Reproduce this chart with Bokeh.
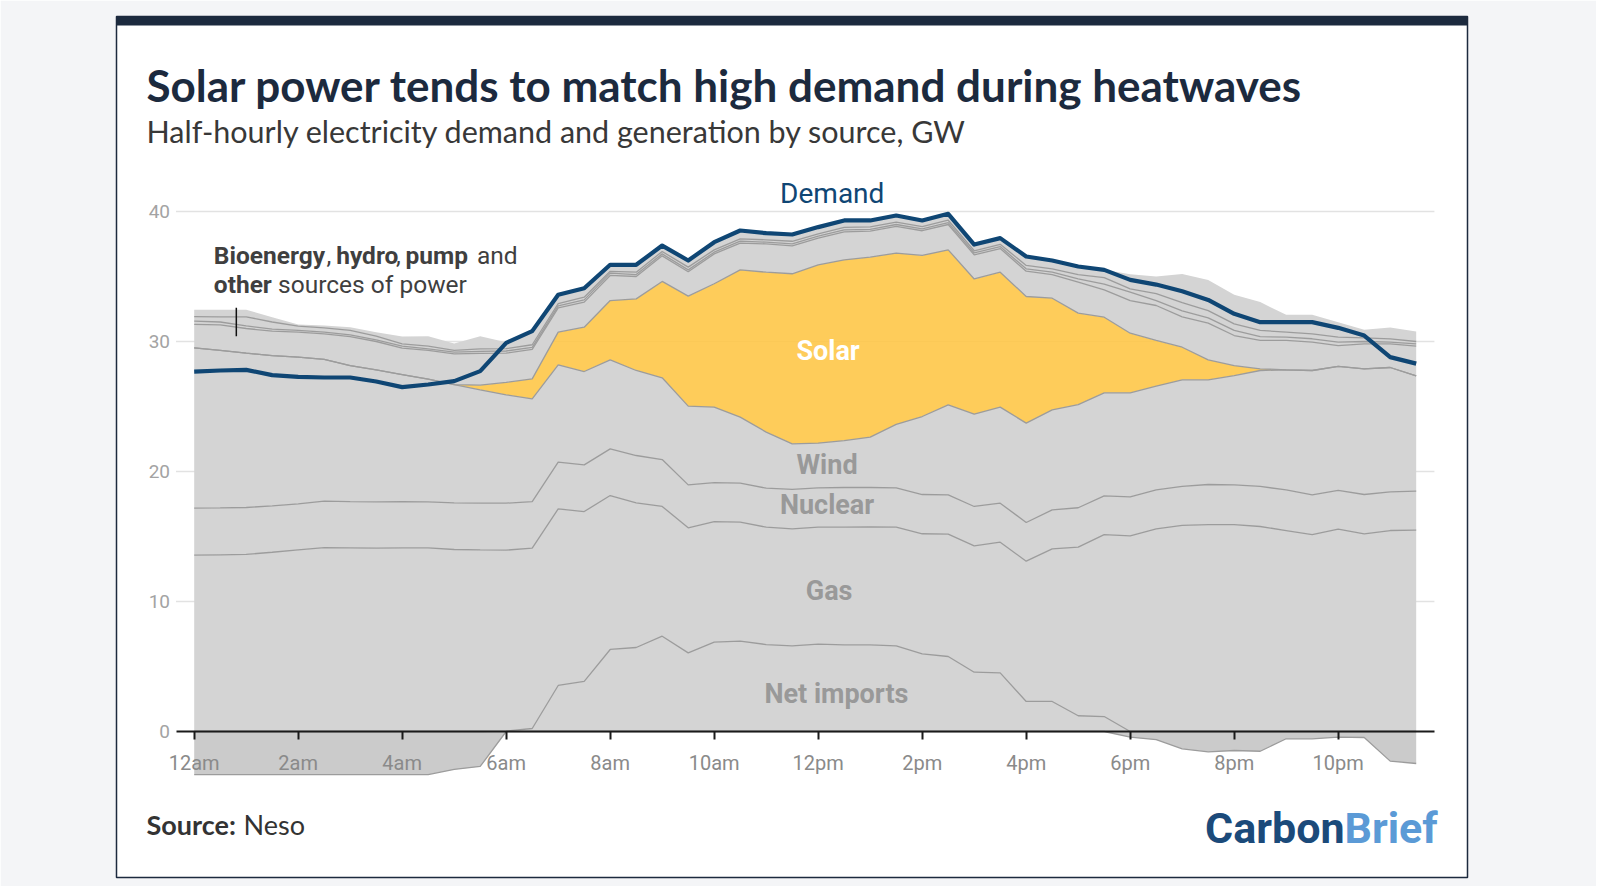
import numpy as np
from bokeh.plotting import figure
from bokeh.models import Label, BoxAnnotation, Range1d, FixedTicker, LinearAxis
from bokeh.embed import file_html
from bokeh.resources import INLINE

# ---------------- data (GW, half-hourly) ----------------
HALF_HOURS = ["00:00", "00:30", "01:00", "01:30", "02:00", "02:30", "03:00", "03:30",
              "04:00", "04:30", "05:00", "05:30", "06:00", "06:30", "07:00", "07:30",
              "08:00", "08:30", "09:00", "09:30", "10:00", "10:30", "11:00", "11:30",
              "12:00", "12:30", "13:00", "13:30", "14:00", "14:30", "15:00", "15:30",
              "16:00", "16:30", "17:00", "17:30", "18:00", "18:30", "19:00", "19:30",
              "20:00", "20:30", "21:00", "21:30", "22:00", "22:30", "23:00", "23:30"]

DEMAND = [27.69, 27.77, 27.82, 27.41, 27.28, 27.23, 27.23, 26.92, 26.49, 26.69, 26.95, 27.72,
          29.90, 30.80, 33.59, 34.10, 35.90, 35.90, 37.38, 36.23, 37.64, 38.54, 38.33, 38.23,
          38.80, 39.31, 39.31, 39.69, 39.31, 39.82, 37.46, 37.95, 36.54, 36.23, 35.77, 35.51,
          34.74, 34.38, 33.87, 33.20, 32.13, 31.49, 31.49, 31.49, 31.05, 30.46, 28.80, 28.30]

NET_IMPORTS = [-4.75, -4.67, -4.62, -4.46, -4.03, -4.00, -3.87, -3.80, -3.89, -3.54, -2.92, -2.69,
               0.03, 0.23, 3.54, 3.85, 6.31, 6.46, 7.33, 6.05, 6.87, 6.95, 6.69, 6.59,
               6.72, 6.67, 6.67, 6.59, 5.97, 5.77, 4.56, 4.51, 2.31, 2.31, 1.21, 1.15,
               -0.44, -0.63, -1.33, -1.56, -1.46, -1.52, -0.56, -0.56, -0.44, -0.46, -2.28, -2.46]

GAS = [13.56, 13.59, 13.62, 13.79, 13.97, 14.15, 14.13, 14.10, 14.13, 14.13, 14.00, 13.97,
       13.92, 13.87, 13.59, 13.07, 11.84, 11.13, 9.98, 9.62, 9.28, 9.15, 9.03, 9.00,
       9.00, 9.05, 9.07, 9.13, 9.24, 9.41, 9.72, 10.05, 10.79, 11.74, 12.97, 14.00,
       15.05, 15.59, 15.85, 15.92, 15.92, 15.77, 15.46, 15.15, 15.56, 15.21, 15.46, 15.49]

NUCLEAR = [3.62, 3.61, 3.61, 3.57, 3.54, 3.57, 3.56, 3.57, 3.56, 3.54, 3.59, 3.59,
           3.61, 3.59, 3.59, 3.59, 3.59, 3.64, 3.61, 3.30, 3.00, 3.00, 3.00, 3.03,
           3.02, 3.05, 3.03, 3.02, 3.02, 3.02, 3.03, 3.00, 2.98, 3.00, 3.03, 2.98,
           3.00, 3.00, 3.00, 3.08, 3.05, 3.08, 3.13, 3.05, 2.98, 3.02, 2.98, 3.00]

WIND = [12.33, 12.11, 11.87, 11.56, 11.29, 10.90, 10.46, 10.15, 9.77, 9.43, 9.10, 8.72,
        8.34, 7.90, 7.49, 7.18, 6.85, 6.54, 6.29, 6.06, 5.80, 5.08, 4.31, 3.51,
        3.44, 3.61, 3.87, 4.88, 6.00, 6.93, 7.10, 7.39, 7.64, 7.69, 7.94, 7.92,
        8.00, 7.97, 8.20, 8.05, 8.41, 8.92, 9.23, 9.57, 9.54, 9.67, 9.56, 8.86]

SOLAR = [0.00, 0.00, 0.00, 0.00, 0.00, 0.00, 0.00, 0.00, 0.00, 0.00, 0.00, 0.36,
         0.95, 1.54, 2.51, 3.41, 4.56, 5.51, 7.41, 8.46, 9.49, 11.33, 12.30, 13.08,
         13.72, 13.90, 13.85, 13.18, 12.39, 11.92, 10.40, 10.38, 9.74, 8.59, 7.03, 5.82,
         4.59, 3.52, 2.51, 1.54, 0.77, 0.13, 0.00, 0.00, 0.00, 0.00, 0.00, 0.00]

BIOENERGY = [1.81, 1.97, 1.90, 1.88, 1.92, 1.97, 2.23, 2.18, 2.03, 2.21, 2.36, 2.45,
             2.25, 2.27, 1.87, 1.93, 1.93, 1.72, 1.97, 1.87, 2.30, 2.05, 2.18, 2.15,
             2.05, 2.15, 2.00, 2.05, 1.90, 1.95, 1.85, 1.82, 1.95, 1.82, 2.38, 2.10,
             2.51, 2.69, 2.34, 2.82, 2.31, 2.18, 2.26, 2.18, 1.61, 1.92, 1.82, 2.29]

HYDRO = [0.24, 0.22, 0.20, 0.15, 0.13, 0.13, 0.13, 0.13, 0.15, 0.13, 0.13, 0.15,
         0.17, 0.15, 0.15, 0.17, 0.18, 0.15, 0.15, 0.15, 0.13, 0.16, 0.13, 0.15,
         0.15, 0.15, 0.14, 0.15, 0.14, 0.15, 0.15, 0.15, 0.18, 0.18, 0.26, 0.45,
         0.65, 0.38, 0.46, 0.41, 0.39, 0.30, 0.25, 0.26, 0.26, 0.18, 0.13, 0.18]

PUMP = [0.36, 0.40, 0.70, 0.55, 0.33, 0.33, 0.34, 0.28, 0.18, 0.20, 0.13, 0.20,
        0.18, 0.20, 0.18, 0.21, 0.14, 0.18, 0.18, 0.21, 0.18, 0.18, 0.18, 0.20,
        0.18, 0.20, 0.18, 0.19, 0.17, 0.18, 0.17, 0.18, 0.26, 0.26, 0.33, 0.50,
        0.25, 0.53, 0.63, 0.56, 0.51, 0.47, 0.39, 0.38, 0.38, 0.28, 0.25, 0.18]

OTHER = [0.52, 0.54, 0.54, 0.37, 0.13, 0.18, 0.25, 0.31, 0.56, 0.76, 0.54, 0.96,
         0.50, 1.05, 0.67, 0.69, 0.50, 0.57, 0.46, 0.51, 0.59, 0.64, 0.51, 0.52,
         0.52, 0.53, 0.50, 0.50, 0.48, 0.49, 0.48, 0.47, 0.69, 0.64, 0.62, 0.59,
         1.13, 1.32, 2.21, 2.36, 2.23, 2.18, 1.33, 1.46, 1.16, 0.62, 0.88, 0.76]

TICK_HOURS = [0, 2, 4, 6, 8, 10, 12, 14, 16, 18, 20, 22]
TICK_LABELS = ["12am", "2am", "4am", "6am", "8am", "10am", "12pm", "2pm", "4pm", "6pm", "8pm", "10pm"]
Y_TICKS = [0, 10, 20, 30, 40]

TITLE = "Solar power tends to match high demand during heatwaves"
SUBTITLE = "Half-hourly electricity demand and generation by source, GW"

# plot-area extents in data units
X_MIN, X_MAX = -0.35, 23.85
Y_FLOOR = -3.31

# ---------------- derived stack ----------------
hours = np.array([int(t[:2]) + int(t[3:]) / 60.0 for t in HALF_HOURS])
ni = np.array(NET_IMPORTS)
neg = np.maximum(np.minimum(ni, 0.0), Y_FLOOR)   # clipped at the plot-area floor
b1 = np.maximum(ni, 0.0)
b2 = b1 + np.array(GAS)
b3 = b2 + np.array(NUCLEAR)
b4 = b3 + np.array(WIND)
b5 = b4 + np.array(SOLAR)
b6 = b5 + np.array(BIOENERGY)
b7 = b6 + np.array(HYDRO)
b8 = b7 + np.array(PUMP)
b9 = b8 + np.array(OTHER)

GREY = "#d4d4d4"
NEG_GREY = "#cbcbcb"
EDGE = "#9c9c9c"
SOLAR_COL = "#fec748"
DEMAND_COL = "#0f4674"
NAVY = "#1c2a3e"

W, H = 1596, 886
CARD_L, CARD_R, CARD_T, CARD_B = 116, 1467, 16, 877


# page pixel -> data helpers (1 h = 52 px, 1 GW = 13 px)
def hx(px):
    return (px - 193.7) / 52.0


def gy(py):
    return (731.0 - py) / 13.0


p = figure(width=W, height=H,
           x_range=Range1d(hx(CARD_L), hx(CARD_R)), y_range=Range1d(gy(CARD_B), gy(CARD_T)),
           x_axis_location=None, y_axis_location=None,
           output_backend="svg", toolbar_location=None,
           min_border_left=CARD_L, min_border_right=W - CARD_R,
           min_border_top=CARD_T, min_border_bottom=H - CARD_B,
           border_fill_color="#f4f5f7", background_fill_color="white",
           outline_line_color=NAVY, outline_line_width=1.5)
p.xgrid.visible = False
p.ygrid.visible = False

# dark top band of the card
p.add_layout(BoxAnnotation(top=gy(CARD_T), bottom=gy(CARD_T + 9), fill_color=NAVY, fill_alpha=1.0,
                           line_color=None, level="underlay"))

# horizontal gridlines (under the areas; faintly visible through solar)
grid_y = [t for t in Y_TICKS if t != 0]
p.segment(x0=[X_MIN] * len(grid_y), y0=grid_y, x1=[X_MAX] * len(grid_y), y1=grid_y,
          line_color="#e2e2e2", line_width=1.3)

# areas
p.varea(x=hours, y1=neg, y2=np.zeros_like(neg), fill_color=NEG_GREY)
for lo, hi in [(np.zeros_like(b1), b1), (b1, b2), (b2, b3), (b3, b4)]:
    p.varea(x=hours, y1=lo, y2=hi, fill_color=GREY)
p.varea(x=hours, y1=b4, y2=b5, fill_color=SOLAR_COL, fill_alpha=0.9)
for lo, hi in [(b5, b6), (b6, b7), (b7, b8), (b8, b9)]:
    p.varea(x=hours, y1=lo, y2=hi, fill_color=GREY)

# boundaries
for b in [neg, b1, b2, b3, b4, b5, b6, b7, b8]:
    p.line(hours, b, line_color=EDGE, line_width=1.3)

# demand
p.line(hours, np.array(DEMAND), line_color=DEMAND_COL, line_width=4.2, line_join="round")

# leader tick for the small-sources note
NOTE_TICK = dict(hour=0.81, low=30.4, high=32.6)
p.segment(x0=[NOTE_TICK["hour"]], y0=[NOTE_TICK["low"]], x1=[NOTE_TICK["hour"]], y1=[NOTE_TICK["high"]],
          line_color="#111111", line_width=1.5)

# axes
xa = LinearAxis(fixed_location=0, bounds=(X_MIN, X_MAX), ticker=FixedTicker(ticks=TICK_HOURS))
xa.major_label_overrides = {h: l for h, l in zip(TICK_HOURS, TICK_LABELS)}
xa.axis_line_color = "#1a1a1a"
xa.axis_line_width = 2
xa.major_tick_line_color = "#1a1a1a"
xa.major_tick_line_width = 2
xa.major_tick_out = 8
xa.major_tick_in = 0
xa.minor_tick_line_color = None
xa.major_label_standoff = 11
xa.major_label_text_font = "Roboto"
xa.major_label_text_font_size = "20px"
xa.major_label_text_color = "#8a8a8a"
p.add_layout(xa, "below")

ya = LinearAxis(fixed_location=X_MIN, ticker=FixedTicker(ticks=Y_TICKS))
ya.axis_line_color = None
ya.major_tick_line_color = None
ya.minor_tick_line_color = None
ya.major_tick_out = 0
ya.major_tick_in = 0
ya.major_label_standoff = 6
ya.major_label_text_font = "Roboto"
ya.major_label_text_font_size = "19px"
ya.major_label_text_color = "#a3a3a3"
p.add_layout(ya, "left")


def add_text(x, y, text, size, color, bold=False, font="Roboto", align="left"):
    p.add_layout(Label(x=x, y=y, text=text, text_font=font, text_font_size=size,
                       text_color=color, text_font_style="bold" if bold else "normal",
                       text_align=align, text_baseline="middle"))


# title block (y = vertical centre of the text line, page px)
add_text(hx(146), gy(84.5), TITLE, "44px", NAVY, bold=True, font="Lato")
add_text(hx(146), gy(130.5), SUBTITLE, "30.5px", "#383838", font="Lato")

# footer
add_text(hx(146), gy(823.5), "Source:", "27px", "#333333", bold=True, font="Lato")
add_text(hx(243), gy(823.5), "Neso", "27px", "#333333", font="Lato")
add_text(hx(1344), gy(827), "Carbon", "43px", "#1b4a7a", bold=True, align="right")
add_text(hx(1344), gy(827), "Brief", "43px", "#5b9ad6", bold=True)

# series labels
add_text(12.27, gy(193.3), "Demand", "28px", DEMAND_COL, align="center")
add_text(12.19, 29.3, "Solar", "27px", "white", bold=True, align="center")
add_text(12.17, 20.5, "Wind", "27px", "#999999", bold=True, align="center")
add_text(12.17, 17.46, "Nuclear", "27px", "#999999", bold=True, align="center")
add_text(12.21, 10.78, "Gas", "27px", "#999999", bold=True, align="center")
add_text(12.35, 2.85, "Net imports", "27px", "#999999", bold=True, align="center")

# note on small sources
NOTE_COL = "#3f3f3f"
L1, L2 = gy(254.6), gy(284.2)
add_text(hx(213.3), L1, "Bioenergy", "24.5px", NOTE_COL, bold=True)
add_text(hx(326.0), L1, ",", "24.5px", NOTE_COL)
add_text(hx(335.7), L1, "hydro", "24.5px", NOTE_COL, bold=True)
add_text(hx(395.5), L1, ",", "24.5px", NOTE_COL)
add_text(hx(405.0), L1, "pump", "24.5px", NOTE_COL, bold=True)
add_text(hx(476.5), L1, "and", "24.5px", NOTE_COL)
add_text(hx(213.3), L2, "other", "24.5px", NOTE_COL, bold=True)
add_text(hx(277.6), L2, "sources of power", "24.5px", NOTE_COL)

open("out.html", "w").write(file_html(p, INLINE))
